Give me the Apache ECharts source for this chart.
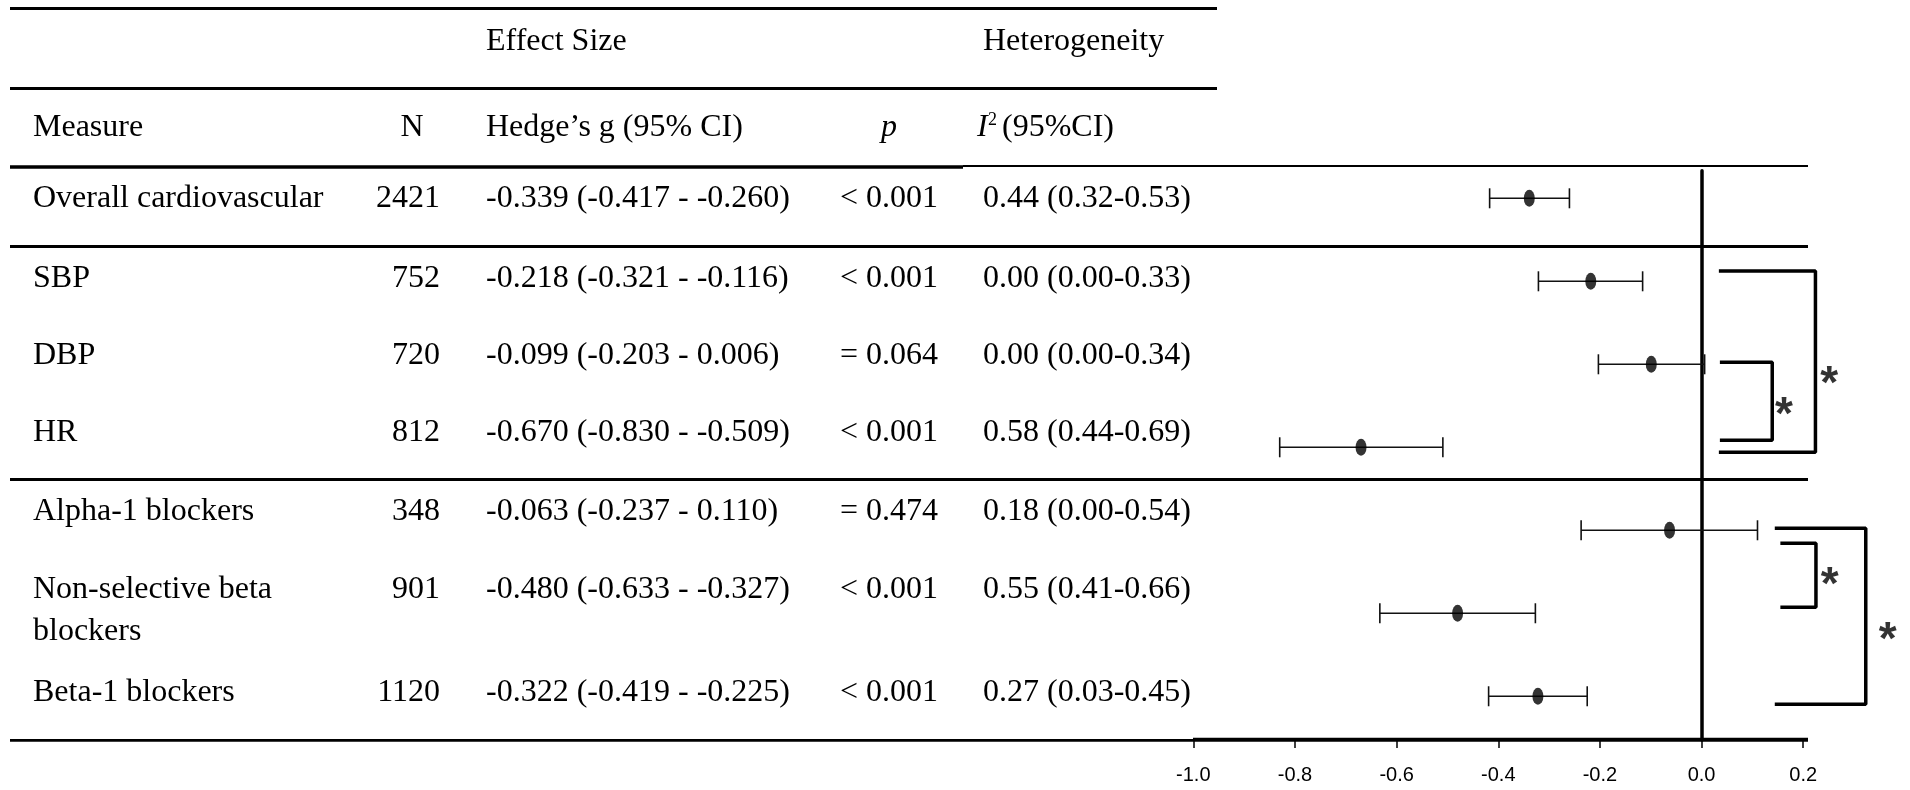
<!DOCTYPE html>
<html><head><meta charset="utf-8">
<script src="https://cdn.jsdelivr.net/npm/echarts@6/dist/echarts.min.js"></script>
<style>html,body{margin:0;padding:0;background:#fff}#c{width:1910px;height:790px}</style>
</head><body><div id="c"></div>
<script>
// ---- data ----
const measures = ['Overall cardiovascular','SBP','DBP','HR','Alpha-1 blockers','Non-selective beta\nblockers','Beta-1 blockers'];
const nValues = [2421, 752, 720, 812, 348, 901, 1120];
const hedgesG = [-0.339, -0.218, -0.099, -0.670, -0.063, -0.480, -0.322];
const ciLow   = [-0.417, -0.321, -0.203, -0.830, -0.237, -0.633, -0.419];
const ciHigh  = [-0.260, -0.116,  0.006, -0.509,  0.110, -0.327, -0.225];
const pValues = ['< 0.001','< 0.001','= 0.064','< 0.001','= 0.474','< 0.001','< 0.001'];
const i2      = [0.44, 0.00, 0.00, 0.58, 0.18, 0.55, 0.27];
const i2Low   = [0.32, 0.00, 0.00, 0.44, 0.00, 0.41, 0.03];
const i2High  = [0.53, 0.33, 0.34, 0.69, 0.54, 0.66, 0.45];
const xTicks  = [-1.0, -0.8, -0.6, -0.4, -0.2, 0.0, 0.2];
// significance brackets: x in effect-size units, y in row-index units
const bracketStart  = [0.034, 0.036, 0.144, 0.155];
const bracketEnd    = [0.224, 0.139, 0.323, 0.225];
const bracketTop    = [0.877, 1.976, 3.976, 4.157];
const bracketBottom = [3.060, 2.916, 6.096, 4.928];
const starX = [0.251, 0.162, 0.366, 0.252];
const starY = [2.129, 2.511, 5.222, 4.559];

// ---- layout ----
const SERIF = "'Liberation Serif','Times New Roman',serif";
const NARROW = "'Liberation Sans Narrow','Liberation Sans',Arial,sans-serif";
const FS = 32;
const colMeasure = 33, colNRight = 440, colHedge = 486, colP = 889, colI2 = 983;
const rowBase = [207, 287, 364, 441, 520.5, 598, 701];
const lineGap = 42;
const mid = b => b - 8.5;

const fmt3 = v => v.toFixed(3);
const fmt2 = v => v.toFixed(2);

function txt(s, x, y, align, opts) {
  opts = opts || {};
  const size = opts.size || FS;
  const font = (opts.italic ? 'italic ' : '') + size + 'px ' + SERIF;
  return {type:'text', x: x, y: y, silent: true, z: 10,
    style:{text:s, font:font, fill:'#000', align:align, textAlign:align,
           verticalAlign:'middle', textVerticalAlign:'middle'}};
}
function hline(x1, x2, y, w) {
  return {type:'line', silent:true, z: 5, shape:{x1:x1, y1:y, x2:x2, y2:y},
    style:{stroke:'#000', lineWidth:w}};
}

const graphics = [];
// table rules
graphics.push(hline(10, 1217, 8.5, 3));
graphics.push(hline(10, 1217, 88.5, 3));
graphics.push(hline(10, 963, 167, 3.5));
graphics.push(hline(963, 1808, 166, 2.2));
graphics.push(hline(10, 1808, 246.5, 2.8));
graphics.push(hline(10, 1808, 479.5, 2.8));
graphics.push(hline(10, 1193, 740.3, 2.8));
graphics.push(hline(1193, 1808, 739.7, 4));
// headers
graphics.push(txt('Effect Size', colHedge, 42, 'left'));
graphics.push(txt('Heterogeneity', colI2, 42, 'left'));
graphics.push(txt('Measure', colMeasure, mid(136.5), 'left'));
graphics.push(txt('N', 412, mid(136.5), 'center'));
graphics.push(txt('Hedge\u2019s g (95% CI)', colHedge, mid(136.5), 'left'));
graphics.push(txt('p', colP, mid(136.5), 'center', {italic:true}));
graphics.push(txt('I', 977, mid(136.5), 'left', {italic:true}));
graphics.push(txt('2', 988, 120, 'left', {size:18}));
graphics.push(txt('(95%CI)', 1002, mid(136.5), 'left'));
// rows
measures.forEach((m, i) => {
  const y = mid(rowBase[i]);
  m.split('\n').forEach((part, k) => graphics.push(txt(part, colMeasure, y + k * lineGap, 'left')));
  graphics.push(txt(String(nValues[i]), colNRight, y, 'right'));
  graphics.push(txt(fmt3(hedgesG[i]) + ' (' + fmt3(ciLow[i]) + ' - ' + fmt3(ciHigh[i]) + ')', colHedge, y, 'left'));
  graphics.push(txt(pValues[i], colP, y, 'center'));
  graphics.push(txt(fmt2(i2[i]) + ' (' + fmt2(i2Low[i]) + '-' + fmt2(i2High[i]) + ')', colI2, y, 'left'));
});

const step = Math.round((xTicks[1] - xTicks[0]) * 1000) / 1000;
const lastTick = xTicks[xTicks.length - 1];

const bracketSeries = bracketStart.map((s, k) => ({
  type:'line', silent:true, clip:false, symbol:'none', z: 4,
  lineStyle:{color:'#000', width:3.5},
  data:[[s, bracketTop[k]], [bracketEnd[k], bracketTop[k]], [bracketEnd[k], bracketBottom[k]], [s, bracketBottom[k]]]
}));

const option = {
  animation:false,
  backgroundColor:'#fff',
  grid:{left:1193.3, right:5.1, top:170.7, bottom:50, containLabel:false, outerBoundsMode:'none'},
  xAxis:{
    type:'value', min:xTicks[0], max:lastTick + step, interval:step,
    axisLine:{show:false, onZero:false},
    axisTick:{show:true, inside:false, length:8, customValues:xTicks, lineStyle:{color:'#000', width:1.5}},
    axisLabel:{show:true, margin:25, color:'#000', fontSize:20, fontFamily:NARROW, customValues:xTicks,
      formatter: v => (v > lastTick + 1e-9 ? '' : (Math.abs(v) < 1e-9 ? 0 : v).toFixed(1))},
    splitLine:{show:false}
  },
  yAxis:{
    type:'value', inverse:true, min:-0.3325, max:6.527,
    axisLine:{show:true, onZero:true, lineStyle:{color:'#000', width:3.5}},
    axisTick:{show:false}, axisLabel:{show:false}, splitLine:{show:false}
  },
  graphic:{elements:graphics},
  series:[
    {
      type:'custom', silent:true, z: 3,
      encode:{x:[1,2], y:0},
      data: hedgesG.map((g, i) => [i, ciLow[i], ciHigh[i]]),
      renderItem(params, api) {
        const y = api.value(0);
        const p1 = api.coord([api.value(1), y]);
        const p2 = api.coord([api.value(2), y]);
        const h = 10, st = {stroke:'#111', lineWidth:1.6};
        return {type:'group', children:[
          {type:'line', shape:{x1:p1[0], y1:p1[1], x2:p2[0], y2:p2[1]}, style:st},
          {type:'line', shape:{x1:p1[0], y1:p1[1]-h, x2:p1[0], y2:p1[1]+h}, style:st},
          {type:'line', shape:{x1:p2[0], y1:p2[1]-h, x2:p2[0], y2:p2[1]+h}, style:st}
        ]};
      }
    },
    {
      type:'scatter', silent:true, z: 6,
      symbol:'circle', symbolSize:[11,17],
      itemStyle:{color:'#000'},
      data: hedgesG.map((g, i) => [g, i])
    },
    ...bracketSeries,
    {
      type:'scatter', silent:true, clip:false, z: 7,
      symbolSize:1, itemStyle:{color:'rgba(0,0,0,0)'},
      label:{show:true, position:'inside', formatter:'*', offset:[0, 10],
        color:'#000', fontSize:46, fontWeight:'bold', fontFamily:"'Liberation Sans',Arial,sans-serif"},
      data: starX.map((x, k) => [x, starY[k]])
    }
  ]
};
const chart = echarts.init(document.getElementById('c'), null, {renderer:'canvas'});
chart.setOption(option);
</script>
</body></html>
